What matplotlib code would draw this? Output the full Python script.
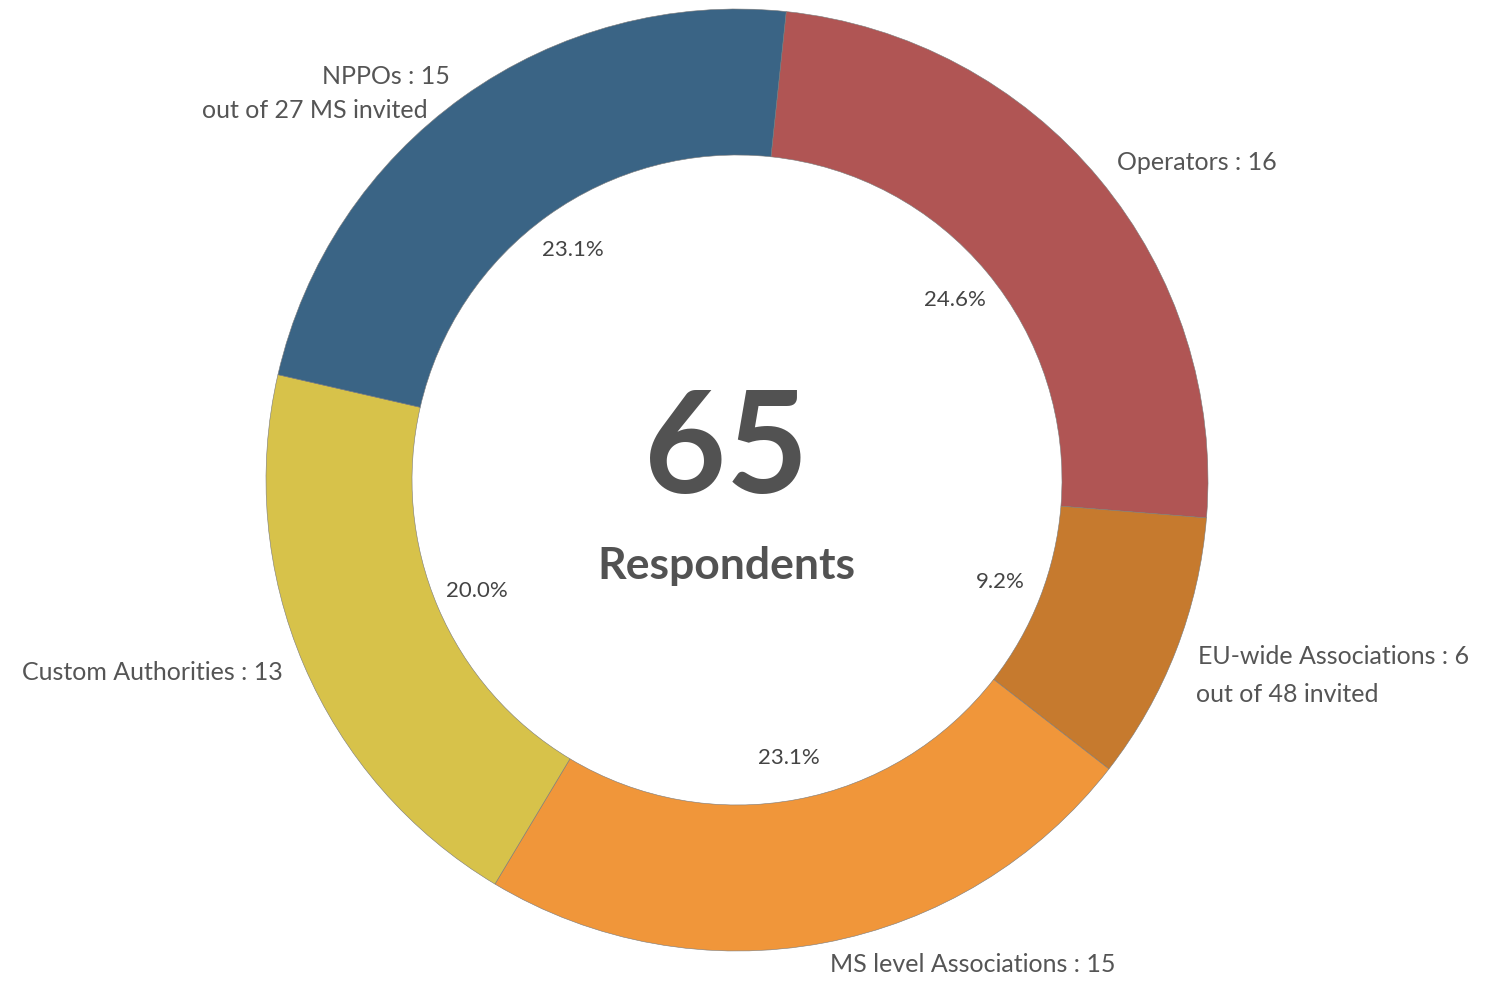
import numpy as np
import matplotlib.pyplot as plt

# data (clockwise from the top)
groups = ['Operators', 'EU-wide Associations', 'MS level Associations',
          'Custom Authorities', 'NPPOs']
counts = [16, 6, 15, 13, 15]
notes = ['', 'out of 48 invited', '', '', 'out of 27 MS invited']
colors = ['#b05554', '#c67a2e', '#f0963a', '#d7c24a', '#3a6485']
total = sum(counts)

plt.rcParams['font.family'] = ['Lato', 'DejaVu Sans']
txt_col = '#555555'

fig = plt.figure(figsize=(14.85, 9.82), dpi=100)
ax = fig.add_axes([0, 0, 1, 1])

wedges, _, pcts = ax.pie(counts, colors=colors, startangle=84, counterclock=False,
                         radius=1.0, autopct='%1.1f%%', pctdistance=0.6,
                         wedgeprops=dict(width=0.31, edgecolor='#7a7a7a', linewidth=0.4),
                         textprops=dict(fontsize=16, color='#444444'))

# pie centre at pixel (737, 480), outer radius 471 px
r_px = 471.0
ax.set_xlim(-737 / r_px, (1485 - 737) / r_px)
ax.set_ylim(-(982 - 480) / r_px, 480 / r_px)
ax.set_aspect('equal')
ax.axis('off')

# outer labels
def px(x, y):
    return (x - 737) / r_px, (480 - y) / r_px

lab_pos = [
    (1117, 162, 'left'),
    (1198, 657, 'left'),
    (830, 964, 'left'),
    (283, 672, 'right'),
    (450, 77, 'right'),
]
note_pos = [None, (1196, 694, 'left'), None, None, (428, 111, 'right')]

for g, c, n, lp, npos in zip(groups, counts, notes, lab_pos, note_pos):
    x, y = px(lp[0], lp[1])
    ax.text(x, y, '%s : %d' % (g, c), ha=lp[2], va='center', fontsize=18, color=txt_col)
    if n:
        x, y = px(npos[0], npos[1])
        ax.text(x, y, n, ha=npos[2], va='center', fontsize=18, color=txt_col)

# centre
x, y = px(726, 453)
ax.text(x, y, str(total), ha='center', va='center', fontsize=102,
        fontweight='bold', color='#525252')
x, y = px(726, 566)
ax.text(x, y, 'Respondents', ha='center', va='center', fontsize=32,
        fontweight='bold', color='#525252')

fig.savefig('out.png', dpi=100, facecolor='white')
